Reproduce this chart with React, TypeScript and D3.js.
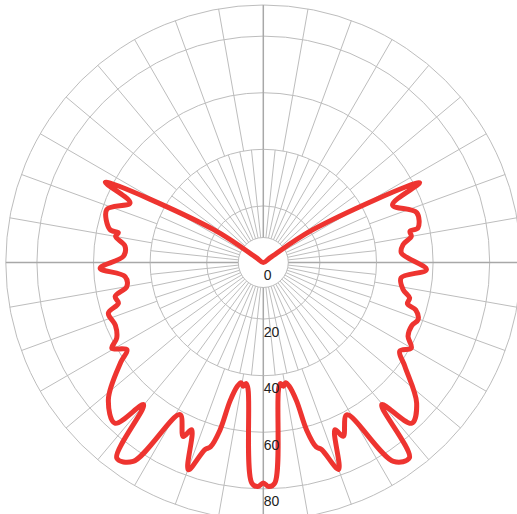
import * as d3 from "d3";

// pattern: angle in degrees (clockwise from top) and radial value
const angles = [
  0, 55, 56.5, 63, 66, 72, 77.4, 78, 80, 82.7, 86, 92.5, 96.3, 100.9, 103.6, 106, 107.3,
  110.2, 113, 117, 120, 123, 126.3, 132.5, 137.3, 140.2, 143.2, 146.8, 151.3, 155.3,
  156.8, 160, 162.7, 164, 165.5, 166.5, 168.2, 169.5, 170.8, 172, 173.2, 177, 178.6,
  180, 181.4, 183, 186.8, 188, 189.2, 190.5, 191.8, 193.5, 194.5, 196, 197.3, 199.9,
  203.2, 204.7, 208.7, 213.2, 216.8, 220.1, 222.7, 228.5, 235, 237.4, 240.5, 242.7,
  247, 251.9, 254.3, 257.1, 260, 264.2, 268, 272.5, 276.7, 280, 281.6, 282.1, 288.7,
  294.1, 296.9, 303.5, 305,
];
const values = [
  0, 3, 21.2, 62, 50, 57, 56, 53, 53.1, 49.8, 48.9, 57.7, 49, 50.3, 53.2, 53, 56.4,
  58.3, 57, 57.4, 60.4, 57.5, 62.1, 73.5, 77.3, 65.4, 86.2, 84, 61.4, 67.6,
  64.3, 77.8, 69.2, 67.8, 61.2, 50.3, 44.6, 43.2, 44.3, 43.2, 45.3, 78, 79.2,
  77.9, 79.2, 78, 45.3, 43.2, 44.3, 43.2, 44.6, 50.3, 61.2, 67.8, 69.2, 77.9,
  64.3, 67.7, 61.3, 84, 86.4, 65.7, 77.3, 73.1, 61.5, 57.2, 61.5, 58.3,
  56.8, 57.6, 53.2, 53.7, 49, 49.1, 57.7, 49.5, 49.2, 53, 52.3, 55.4, 58.4,
  51.6, 62.6, 21.2, 3,
];

const tickValues = [0, 20, 40, 60, 80];
const ringValues = [20, 40, 60, 80];

export default function App() {
  const width = 517;
  const height = 514;
  const cx = 263.3;
  const cy = 262.5;
  const outerRadius = 257.5;
  const holeRadius = 25;

  const rScale = d3.scaleLinear().domain([0, 91]).range([0, outerRadius]);

  const points: [number, number][] = angles.map((a, i) => [
    (a * Math.PI) / 180,
    rScale(values[i]),
  ]);
  const line = d3.lineRadial().curve(d3.curveCatmullRomClosed.alpha(0.5));

  // inner band: a spoke every 6 degrees up to the 40 ring, outer band: every 10 degrees
  const innerSpokes = d3.range(0, 360, 6);
  const outerSpokes = d3.range(0, 360, 10);

  const pt = (deg: number, r: number) => {
    const a = (deg * Math.PI) / 180;
    return [Math.sin(a) * r, -Math.cos(a) * r];
  };

  const spoke = (d: number, r0: number, r1: number, key: string) => {
    const [x1, y1] = pt(d, r0);
    const [x2, y2] = pt(d, r1);
    const main = d % 90 === 0;
    return (
      <line
        key={key}
        x1={x1}
        y1={y1}
        x2={x2}
        y2={y2}
        stroke={main ? "#a8a8a8" : "#bdbdbd"}
        strokeWidth={main ? 1.5 : 1}
      />
    );
  };

  return (
    <svg
      width={width}
      height={height}
      style={{ position: "absolute", left: 0, top: 0, background: "#fff" }}
    >
      <g transform={`translate(${cx},${cy})`}>
        <g fill="none" stroke="#bdbdbd" strokeWidth={1}>
          <circle r={holeRadius} />
          {ringValues.map((v) => (
            <circle key={v} r={rScale(v)} />
          ))}
          <circle r={outerRadius} />
        </g>
        <g>
          {innerSpokes.map((d) => spoke(d, holeRadius, rScale(40), "i" + d))}
          {outerSpokes.map((d) => spoke(d, rScale(40), outerRadius, "o" + d))}
        </g>
        <path
          d={line(points) || ""}
          fill="none"
          stroke="#ee3430"
          strokeWidth={5}
          strokeLinejoin="round"
        />
        <g
          fontFamily="'Liberation Sans', Arial, sans-serif"
          fontSize={14}
          fill="#222"
        >
          {tickValues.map((t) => (
            <text
              key={t}
              x={0.5}
              y={rScale(t) + 12.5}
              dominantBaseline="central"
            >
              {t}
            </text>
          ))}
        </g>
      </g>
    </svg>
  );
}
